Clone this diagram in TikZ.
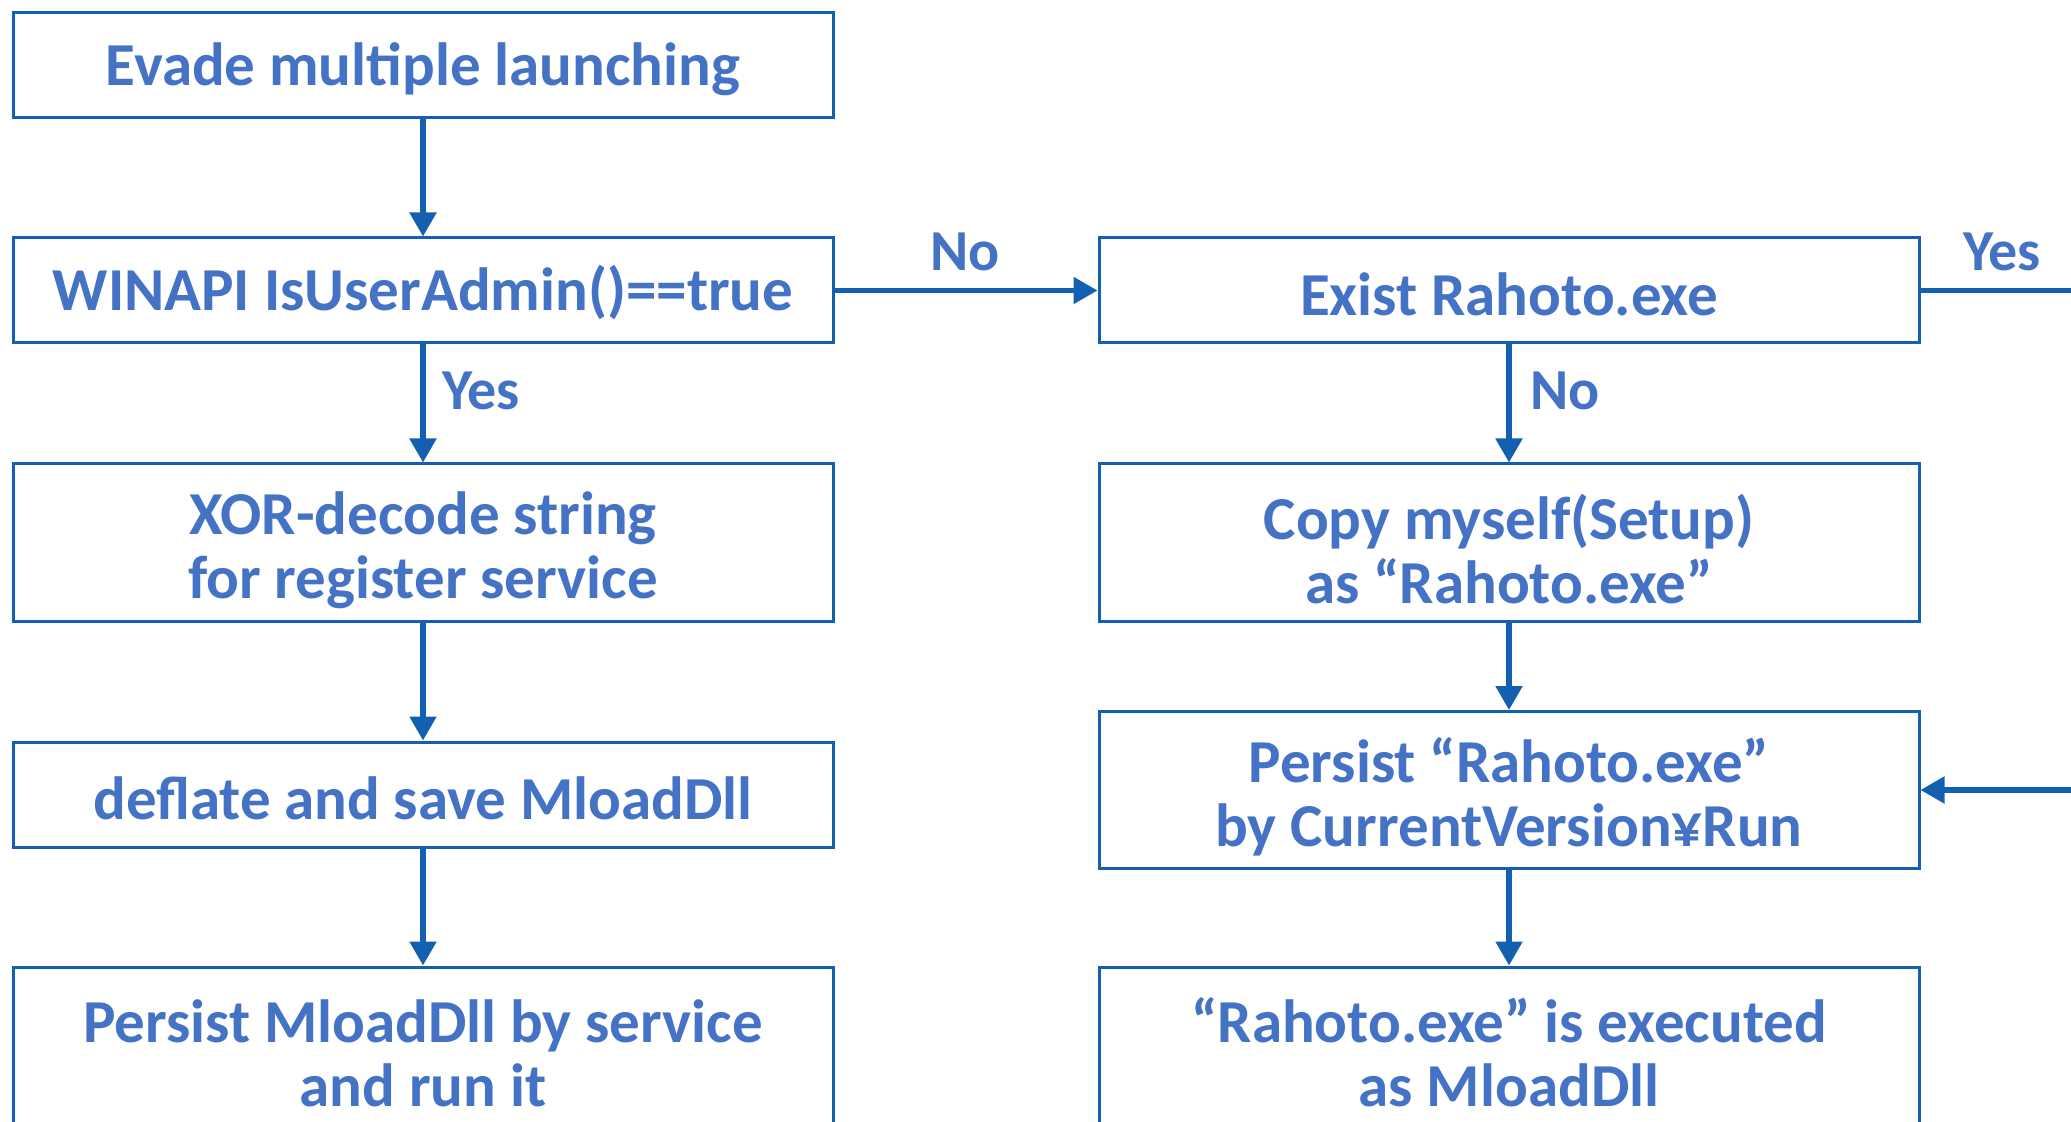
\documentclass[tikz,border=0pt]{standalone}
\usepackage{fontspec}
\setmainfont{Carlito}
\usepackage{tikz}
\usetikzlibrary{arrows.meta}

\definecolor{boxline}{HTML}{1460B0}
\definecolor{boxtext}{HTML}{4472C4}
% taller first line, so two-line texts sit a little lower
\newcommand{\firstline}{\rule{0pt}{29.5pt}}

\begin{document}
\begin{tikzpicture}[x=0.5pt,y=-0.5pt]
	\clip (0,0) rectangle (2071,1122);
	\fill[white] (0,0) rectangle (2071,1122);
	\tikzstyle{every node}=[text=boxtext];
	\tikzstyle{procbox}=[draw=boxline,line width=1.5pt,shape=rectangle,
		minimum width=410pt,inner ysep=0pt,align=center,
		font=\fontsize{30.5}{32}\selectfont\bfseries];
	\tikzstyle{onebox}=[procbox,minimum height=52.5pt,
		execute at begin node={\rule{0pt}{25pt}}];
	\tikzstyle{twobox}=[procbox,minimum height=78.5pt];
	\tikzstyle{lbl}=[inner sep=0pt,font=\fontsize{29}{30}\selectfont\bfseries];
	\tikzstyle{flow}=[draw=boxline,line width=2.6pt,
		-{Triangle[length=12pt,width=13pt]}];
	% left column
	\node[onebox] (evade)   at ( 423,  65.5) {Evade multiple launching};
	\node[onebox] (admin)   at ( 423, 290.5) {WINAPI IsUserAdmin()==true};
	\node[twobox] (xor)     at ( 423, 542.5) {\firstline XOR-decode string\\for register service};
	\node[onebox] (deflate) at ( 423, 794.5) {deflate and save MloadDll};
	\node[twobox] (svc)     at ( 423,1045.5) {\firstline Persist MloadDll by service\\and run it};
	% right column
	\node[onebox] (exist)   at (1509, 290.5) {Exist Rahoto.exe};
	\node[twobox] (copy)    at (1509, 542.5) {\firstline Copy myself(Setup)\\as “Rahoto.exe”};
	\node[twobox] (run)     at (1509, 790)   {\firstline Persist “Rahoto.exe”\\by CurrentVersion¥Run};
	\node[twobox] (exec)    at (1509,1045.5) {\firstline “Rahoto.exe” is executed\\as MloadDll};
	\coordinate (loop) at (2110,0);
	% arrows
	\draw[flow] (evade)--(admin);
	\draw[flow] (admin)--(xor);
	\draw[flow] (xor)--(deflate);
	\draw[flow] (deflate)--(svc);
	\draw[flow] (admin)--(exist);
	\draw[flow] (exist)--(copy);
	\draw[flow] (copy)--(run);
	\draw[flow] (run)--(exec);
	\draw[flow] (exist.east)--(exist.east-|loop)--(run.east-|loop)--(run.east);
	% branch labels
	\node[lbl] (no1)  at ( 965,252) {No};
	\node[lbl] (yes1) at (2002,252) {Yes};
	\node[lbl] (yes2) at ( 481,391) {Yes};
	\node[lbl] (no2)  at (1565,391) {No};
\end{tikzpicture}
\end{document}
